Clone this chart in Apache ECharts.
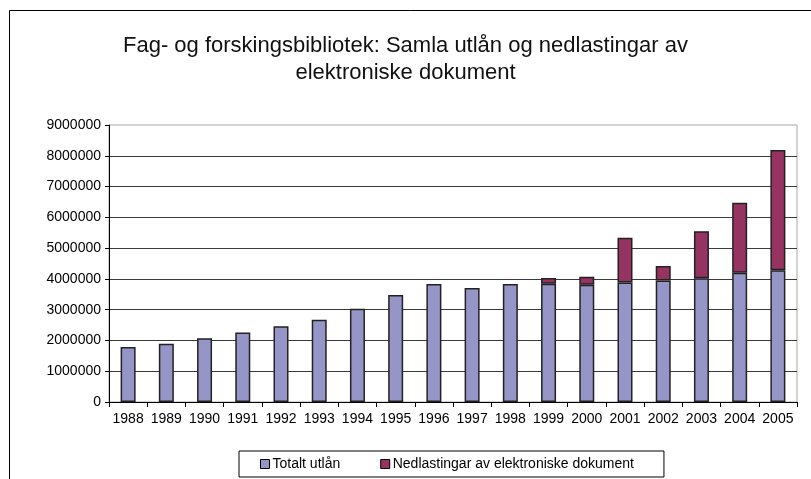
<!DOCTYPE html>
<html>
<head>
<meta charset="utf-8">
<script src="https://cdn.jsdelivr.net/npm/echarts@6/dist/echarts.min.js"></script>
<style>
  html, body { margin: 0; padding: 0; background: #fff; }
  #chart { width: 811px; height: 479px; }
</style>
</head>
<body>
<div id="chart"></div>
<script>
const years = ['1988', '1989', '1990', '1991', '1992', '1993', '1994', '1995', '1996',
  '1997', '1998', '1999', '2000', '2001', '2002', '2003', '2004', '2005']

// totalt utlån
const loans = [1790000, 1890000, 2070000, 2260000, 2460000, 2670000, 3030000, 3480000, 3830000,
  3700000, 3830000, 3840000, 3810000, 3880000, 3950000, 4020000, 4200000, 4280000]

// nedlastingar av elektroniske dokument
const downloads = [0, 0, 0, 0, 0, 0, 0, 0, 0,
  0, 0, 190000, 260000, 1460000, 470000, 1530000, 2270000, 3910000]

const yTicks = [0, 1000000, 2000000, 3000000, 4000000, 5000000, 6000000, 7000000, 8000000, 9000000]

const font = '"Liberation Sans", Arial, sans-serif'

const chart = echarts.init(document.getElementById('chart'))

chart.setOption({
  animation: false,
  textStyle: { fontFamily: font },
  graphic: [{
    type: 'rect',
    shape: { x: 9.5, y: 10.5, width: 820, height: 500 },
    style: { fill: 'none', stroke: '#000', lineWidth: 1 },
    silent: true
  }],
  title: {
    text: 'Fag- og forskingsbibliotek: Samla utlån og nedlastingar av\nelektroniske dokument',
    left: 'center',
    top: 27,
    textStyle: {
      fontFamily: font,
      fontSize: 22,
      fontWeight: 'normal',
      color: '#111',
      lineHeight: 27,
      align: 'center'
    }
  },
  legend: {
    left: 239,
    top: 451,
    padding: [6, 30, 6, 21],
    itemGap: 40,
    itemWidth: 9,
    itemHeight: 9,
    borderColor: '#000',
    borderWidth: 1,
    textStyle: { fontFamily: font, fontSize: 14, color: '#000', padding: [0, 0, 0, -2] },
    data: [
      { name: 'Totalt utlån', icon: 'rect', itemStyle: { borderColor: '#000', borderWidth: 1 } },
      { name: 'Nedlastingar av elektroniske dokument', icon: 'rect', itemStyle: { borderColor: '#000', borderWidth: 1 } }
    ]
  },
  grid: {
    left: 109,
    right: 14,
    top: 125,
    bottom: 77,
    show: true,
    borderColor: '#a8a8a8',
    borderWidth: 1,
    containLabel: false
  },
  xAxis: {
    type: 'category',
    data: years,
    axisLine: { lineStyle: { color: '#000' } },
    axisTick: { show: true, length: 5, alignWithLabel: false, lineStyle: { color: '#000' } },
    axisLabel: { color: '#000', fontSize: 14, fontFamily: font, margin: 10, interval: 0 }
  },
  yAxis: {
    type: 'value',
    min: yTicks[0],
    max: yTicks[yTicks.length - 1],
    interval: 1000000,
    axisLine: { show: true, lineStyle: { color: '#000' } },
    axisTick: { show: true, length: 4, lineStyle: { color: '#000' } },
    axisLabel: { color: '#000', fontSize: 14, fontFamily: font, margin: 8, formatter: v => String(v) },
    splitLine: { show: true, showMaxLine: false, lineStyle: { color: '#3a3a3a', width: 1 } }
  },
  series: [
    {
      name: 'Totalt utlån',
      type: 'bar',
      stack: 'total',
      barWidth: 15,
      data: loans,
      itemStyle: { color: '#9595c8', borderColor: '#222', borderWidth: 1.5 }
    },
    {
      name: 'Nedlastingar av elektroniske dokument',
      type: 'bar',
      stack: 'total',
      barWidth: 15,
      data: downloads.map(v => (v === 0 ? '-' : v)),
      itemStyle: { color: '#963360', borderColor: '#222', borderWidth: 1.5 }
    }
  ]
})
</script>
</body>
</html>
